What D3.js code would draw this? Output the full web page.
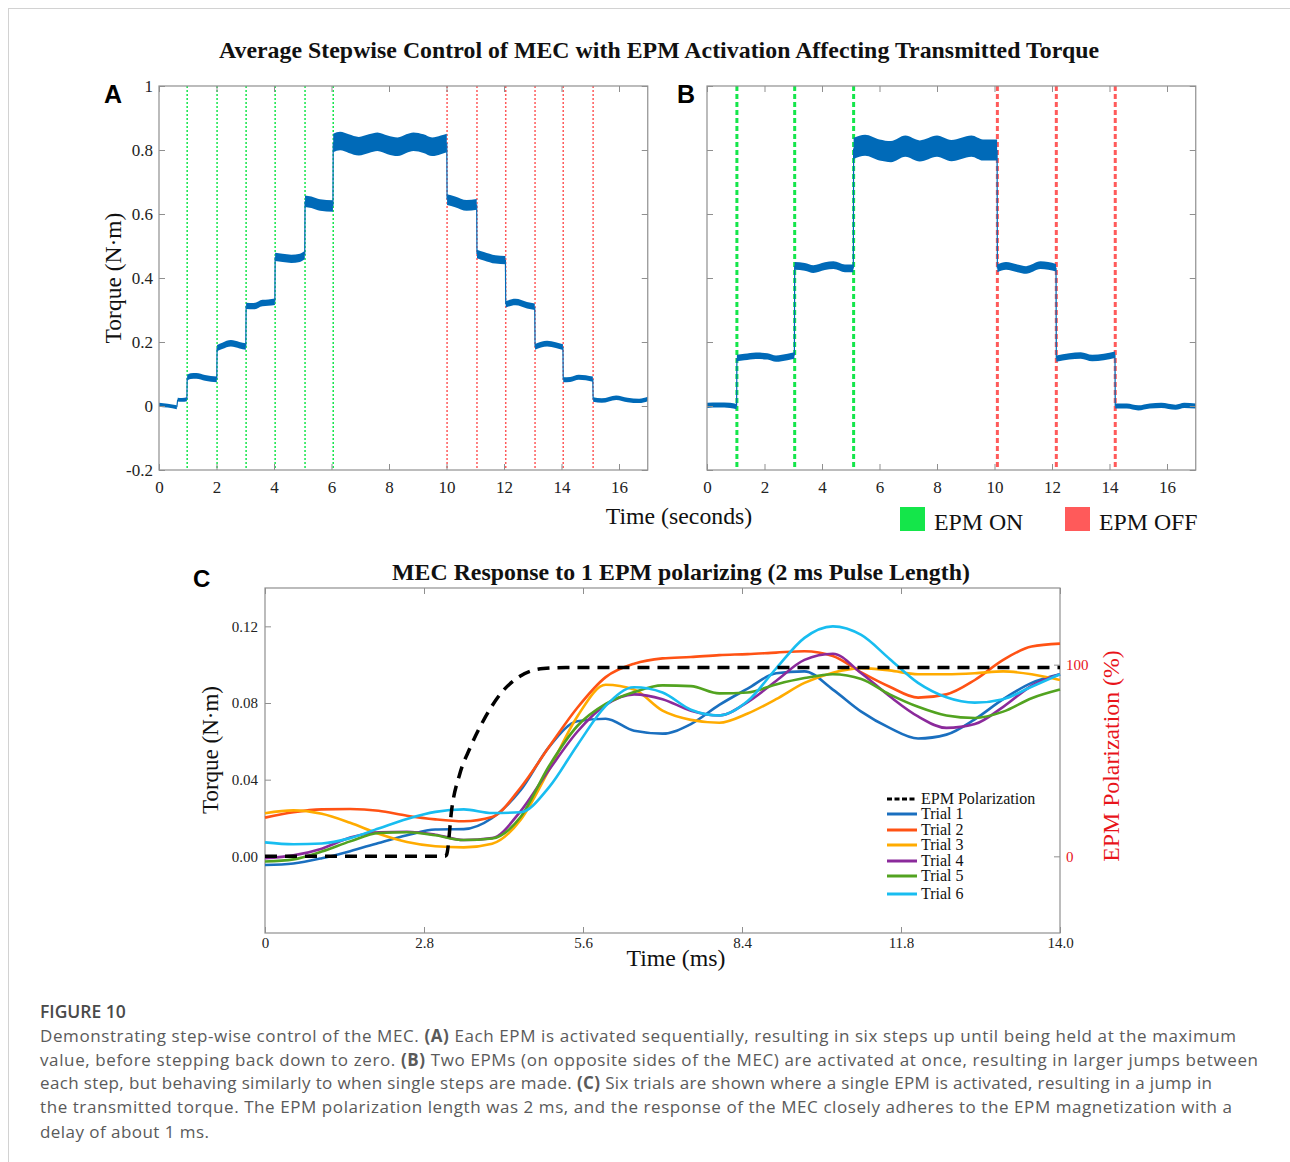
<!DOCTYPE html>
<html lang="en">
<head>
<meta charset="utf-8">
<title>Stepwise Control of MEC</title>
<script src="https://cdn.jsdelivr.net/npm/d3@7"></script>
<style>
  body { margin: 0; background: #fff; }
</style>
</head>
<body>
<script>

/* ---------- data ---------- */

// panel A: one EPM per step, each segment is [time s, torque N·m]
var aSegments = [
  [[0, 0.004], [0.3, 0.001], [0.62, -0.004]],
  [[0.65, 0.02], [0.8, 0.019], [0.97, 0.021]],
  [[0.98, 0.088], [1.1, 0.093], [1.3, 0.094], [1.6, 0.088], [2.01, 0.083]],
  [[2.02, 0.181], [2.2, 0.188], [2.5, 0.196], [2.8, 0.19], [3.02, 0.186]],
  [[3.03, 0.313], [3.3, 0.312], [3.6, 0.322], [3.8, 0.323], [4.03, 0.326]],
  [[4.04, 0.466], [4.3, 0.463], [4.6, 0.46], [4.9, 0.463], [5.07, 0.472]],
  [[5.08, 0.64], [5.3, 0.637], [5.6, 0.628], [6.05, 0.625]],
  [[6.06, 0.822], [6.3, 0.828], [6.6, 0.82], [6.95, 0.812], [7.3, 0.82], [7.6, 0.826], [7.95, 0.816],
   [8.3, 0.81], [8.6, 0.82], [8.85, 0.826], [9.2, 0.82], [9.5, 0.81], [9.8, 0.816], [10.01, 0.822]],
  [[10.02, 0.645], [10.3, 0.638], [10.7, 0.627], [11.05, 0.63]],
  [[11.06, 0.475], [11.3, 0.468], [11.7, 0.458], [12.05, 0.456]],
  [[12.06, 0.318], [12.4, 0.325], [12.8, 0.315], [13.07, 0.31]],
  [[13.08, 0.185], [13.5, 0.195], [13.8, 0.19], [14.05, 0.184]],
  [[14.06, 0.082], [14.3, 0.083], [14.6, 0.09], [15.09, 0.084]],
  [[15.1, 0.02], [15.4, 0.017], [15.9, 0.026], [16.3, 0.019], [16.7, 0.016], [17, 0.022]]
];
var aSpread = [0.006, 0.006, 0.009, 0.01, 0.01, 0.013, 0.018, 0.029, 0.017, 0.013, 0.01, 0.009, 0.008, 0.007];
var aOnTimes = [0.98, 2.02, 3.03, 4.04, 5.08, 6.06];
var aOffTimes = [10.02, 11.06, 12.06, 13.08, 14.06, 15.1];

// panel B: two EPMs per step
var bSegments = [
  [[0, 0.002], [0.4, 0.003], [0.8, 0.002], [1.03, -0.002]],
  [[1.04, 0.15], [1.3, 0.153], [1.7, 0.157], [2.1, 0.155], [2.4, 0.148], [2.8, 0.153], [3.04, 0.158]],
  [[3.05, 0.438], [3.4, 0.435], [3.7, 0.428], [4.1, 0.437], [4.4, 0.44], [4.8, 0.43], [5.09, 0.43]],
  [[5.1, 0.805], [5.5, 0.815], [6.0, 0.8], [6.4, 0.795], [6.9, 0.812], [7.4, 0.797], [8.0, 0.812],
   [8.5, 0.798], [9.2, 0.812], [9.6, 0.8], [10.09, 0.8]],
  [[10.1, 0.43], [10.4, 0.438], [10.8, 0.43], [11.1, 0.425], [11.6, 0.44], [12.14, 0.432]],
  [[12.15, 0.148], [12.6, 0.155], [13.0, 0.158], [13.4, 0.15], [13.8, 0.153], [14.19, 0.16]],
  [[14.2, 0.0], [14.6, 0.0], [15.0, -0.006], [15.4, 0.0], [15.8, 0.002], [16.3, -0.004], [16.6, 0.002], [17, 0.0]]
];
var bSpread = [0.008, 0.01, 0.012, 0.033, 0.012, 0.01, 0.008];
var bOnTimes = [1.04, 3.05, 5.1];
var bOffTimes = [10.1, 12.15, 14.2];

var stepXTicks = [0, 2, 4, 6, 8, 10, 12, 14, 16];
var stepYTicks = [-0.2, 0, 0.2, 0.4, 0.6, 0.8, 1];
var stepYLabels = ["-0.2", "0", "0.2", "0.4", "0.6", "0.8", "1"];

// panel C: single EPM pulse, six trials (time in ms)
var cTime = [0, 0.5, 1, 1.5, 2, 2.5, 3, 3.5, 4, 4.5, 5, 5.5, 6, 6.5, 7, 7.5, 8, 8.5, 9, 9.5, 10, 10.5, 11, 11.5, 12, 12.5, 13, 13.5, 14];
var trial1 = [-0.0045, -0.0037, -0.001, 0.0027, 0.007, 0.011, 0.014, 0.0142, 0.02, 0.0345, 0.057, 0.0705, 0.0718, 0.0655, 0.064,
  0.069, 0.079, 0.0875, 0.0955, 0.0965, 0.087, 0.0755, 0.067, 0.0615, 0.0635, 0.0715, 0.082, 0.0905, 0.095];
var trial2 = [0.0202, 0.023, 0.0245, 0.0247, 0.0238, 0.0212, 0.0193, 0.0183, 0.0205, 0.0358, 0.057, 0.0775, 0.0935, 0.1005, 0.1033,
  0.104, 0.105, 0.1055, 0.1063, 0.107, 0.1045, 0.096, 0.0885, 0.0828, 0.0845, 0.092, 0.1025, 0.1095, 0.111];
var trial3 = [0.0225, 0.024, 0.0222, 0.0175, 0.0118, 0.0075, 0.0053, 0.0047, 0.0066, 0.019, 0.045, 0.073, 0.0895, 0.087, 0.076,
  0.0712, 0.0697, 0.0745, 0.082, 0.0905, 0.0958, 0.0982, 0.097, 0.095, 0.095, 0.0955, 0.0965, 0.095, 0.092];
var trial4 = [-0.001, 0.0005, 0.004, 0.0098, 0.0126, 0.0128, 0.0113, 0.0085, 0.0095, 0.0235, 0.045, 0.065, 0.079, 0.0845, 0.082,
  0.076, 0.0735, 0.0805, 0.0915, 0.1025, 0.1057, 0.0955, 0.0835, 0.073, 0.067, 0.069, 0.078, 0.089, 0.095];
var trial5 = [-0.0027, -0.0016, 0.0025, 0.0078, 0.0122, 0.0126, 0.011, 0.0085, 0.0093, 0.0205, 0.047, 0.068, 0.0795, 0.0857, 0.0892,
  0.0888, 0.085, 0.0855, 0.0897, 0.093, 0.095, 0.0925, 0.0845, 0.078, 0.0735, 0.0722, 0.0755, 0.0825, 0.087];
var trial6 = [0.0073, 0.0063, 0.0067, 0.0095, 0.0145, 0.0195, 0.0232, 0.0245, 0.0226, 0.023, 0.036, 0.058, 0.0785, 0.0882, 0.0855,
  0.0765, 0.0735, 0.081, 0.098, 0.114, 0.12, 0.1155, 0.103, 0.0905, 0.083, 0.0802, 0.082, 0.0885, 0.095];
var trialNames = ["Trial 1", "Trial 2", "Trial 3", "Trial 4", "Trial 5", "Trial 6"];

// EPM polarization (%) against time (ms)
var polTime = [0, 3.17, 3.2, 3.29, 3.43, 3.61, 3.84, 4.14, 4.49, 4.9, 5.3, 14];
var polValue = [0, 0, 1, 25, 43, 56.5, 70.5, 84.5, 94, 98, 98.5, 98.5];

var cXTicks = [0, 2.8, 5.6, 8.4, 11.2, 14];
var cXLabels = ["0", "2.8", "5.6", "8.4", "11.8", "14.0"];
var cYTicks = [0, 0.04, 0.08, 0.12];
var cYLabels = ["0.00", "0.04", "0.08", "0.12"];
var cRTicks = [0, 100];

/* ---------- styles ---------- */

var serif = "'Liberation Serif', 'Times New Roman', serif";
var sans = "'Liberation Sans', Arial, sans-serif";
var axisGrey = "#8f8f8f";
var traceBlue = "#006ab8";
var onGreen = "#14e64a";
var offRed = "#ff5a5a";
var trialColors = ["#1a6fbf", "#ff5214", "#ffab00", "#8b2a9b", "#52a320", "#18bdf0"];

var w = 1290, h = 1162;
var svg = d3.select("body")
  .append("svg")
  .attr("width", w)
  .attr("height", h)
  .style("background", "#fff");

// page frame
svg.append("line").attr("x1", 8).attr("x2", w).attr("y1", 8.5).attr("y2", 8.5).attr("stroke", "#d2d2d2");
svg.append("line").attr("x1", 8.5).attr("x2", 8.5).attr("y1", 8).attr("y2", h).attr("stroke", "#d2d2d2");

svg.append("text")
  .attr("x", 659).attr("y", 58)
  .attr("text-anchor", "middle")
  .attr("font-family", serif).attr("font-weight", "bold").attr("font-size", "23.8px")
  .attr("textLength", 880).attr("lengthAdjust", "spacing")
  .attr("fill", "#111")
  .text("Average Stepwise Control of MEC with EPM Activation Affecting Transmitted Torque");

function styleAxis(sel, size) {
  sel.select(".domain").remove();
  sel.selectAll(".tick line").attr("stroke", axisGrey);
  sel.selectAll(".tick text")
    .attr("font-family", serif)
    .attr("font-size", size)
    .attr("fill", "#222");
}

/* ---------- panels A and B ---------- */

function stepPanel(left, segs, spread, onT, offT, dash, markWidth, showY) {
  var x = d3.scaleLinear().domain([0, 17]).range([left, left + 488.75]);
  var y = d3.scaleLinear().domain([-0.2, 1]).range([470, 86]);
  var g = svg.append("g");

  // EPM switching markers
  [[onT, onGreen], [offT, offRed]].forEach(function(m) {
    g.selectAll(null)
      .data(m[0])
      .enter()
      .append("line")
      .attr("x1", function(d) { return x(d); })
      .attr("x2", function(d) { return x(d); })
      .attr("y1", y(1))
      .attr("y2", y(-0.2))
      .attr("stroke", m[1])
      .attr("stroke-width", markWidth)
      .attr("stroke-dasharray", dash);
  });

  // torque trace drawn as a band around the mean
  segs.forEach(function(seg, i) {
    var hw = spread[i];
    var band = d3.area()
      .curve(d3.curveMonotoneX)
      .x(function(d) { return x(d[0]); })
      .y0(function(d) { return y(d[1] - hw); })
      .y1(function(d) { return y(d[1] + hw); });
    g.append("path").datum(seg).attr("d", band).attr("fill", traceBlue);
    if (i > 0) {
      var prev = segs[i - 1][segs[i - 1].length - 1];
      g.append("line")
        .attr("x1", x(prev[0])).attr("x2", x(seg[0][0]))
        .attr("y1", y(prev[1])).attr("y2", y(seg[0][1]))
        .attr("stroke", traceBlue).attr("stroke-width", 1.2);
    }
  });

  g.append("rect")
    .attr("x", x(0)).attr("y", y(1))
    .attr("width", x(17) - x(0)).attr("height", y(-0.2) - y(1))
    .attr("fill", "none").attr("stroke", axisGrey).attr("stroke-width", 1.2);

  g.append("g").attr("transform", "translate(0," + y(-0.2) + ")")
    .call(d3.axisBottom(x).tickValues(stepXTicks).tickFormat(d3.format("d")).tickSize(-6).tickSizeOuter(0).tickPadding(11))
    .call(styleAxis, "17px");
  g.append("g").attr("transform", "translate(0," + y(1) + ")")
    .call(d3.axisTop(x).tickValues(stepXTicks).tickFormat("").tickSize(-6).tickSizeOuter(0))
    .call(styleAxis, "17px");
  g.append("g").attr("transform", "translate(" + x(0) + ",0)")
    .call(d3.axisLeft(y).tickValues(stepYTicks)
      .tickFormat(function(d, i) { return showY ? stepYLabels[i] : ""; })
      .tickSize(-6).tickSizeOuter(0).tickPadding(6))
    .call(styleAxis, "17px");
  g.append("g").attr("transform", "translate(" + x(17) + ",0)")
    .call(d3.axisRight(y).tickValues(stepYTicks).tickFormat("").tickSize(-6).tickSizeOuter(0))
    .call(styleAxis, "17px");
}

stepPanel(159, aSegments, aSpread, aOnTimes, aOffTimes, "2,2", 1.5, true);
stepPanel(707, bSegments, bSpread, bOnTimes, bOffTimes, "5,3", 3, false);

svg.append("text").attr("x", 104).attr("y", 103)
  .attr("font-family", sans).attr("font-weight", "bold").attr("font-size", "25px").text("A");
svg.append("text").attr("x", 677).attr("y", 103)
  .attr("font-family", sans).attr("font-weight", "bold").attr("font-size", "25px").text("B");

svg.append("text")
  .attr("transform", "translate(121,278) rotate(-90)")
  .attr("text-anchor", "middle")
  .attr("font-family", serif).attr("font-size", "23.5px").attr("fill", "#111")
  .text("Torque (N·m)");
svg.append("text")
  .attr("x", 679).attr("y", 524)
  .attr("text-anchor", "middle")
  .attr("font-family", serif).attr("font-size", "23.8px").attr("fill", "#111")
  .text("Time (seconds)");

// EPM ON / OFF key
var key = [["EPM ON", onGreen, 900], ["EPM OFF", offRed, 1065]];
svg.selectAll(".key")
  .data(key)
  .enter()
  .append("rect")
  .attr("x", function(d) { return d[2]; })
  .attr("y", 507)
  .attr("width", 25).attr("height", 24)
  .attr("fill", function(d) { return d[1]; });
svg.selectAll(".keytext")
  .data(key)
  .enter()
  .append("text")
  .attr("x", function(d) { return d[2] + 34; })
  .attr("y", 530)
  .attr("font-family", serif).attr("font-size", "23.8px").attr("fill", "#111")
  .text(function(d) { return d[0]; });

/* ---------- panel C ---------- */

var cx = d3.scaleLinear().domain([0, 14]).range([265, 1060]);
var cy = d3.scaleLinear().domain([-0.04, 0.14]).range([933, 588]);
var cyR = d3.scaleLinear().domain([-40, 140]).range([933, 588]);
var gc = svg.append("g");

gc.append("rect")
  .attr("x", cx(0)).attr("y", cy(0.14))
  .attr("width", cx(14) - cx(0)).attr("height", cy(-0.04) - cy(0.14))
  .attr("fill", "none").attr("stroke", axisGrey).attr("stroke-width", 1.2);

gc.append("g").attr("transform", "translate(0," + cy(-0.04) + ")")
  .call(d3.axisBottom(cx).tickValues(cXTicks)
    .tickFormat(function(d, i) { return cXLabels[i]; })
    .tickSize(-6).tickSizeOuter(0).tickPadding(4))
  .call(styleAxis, "15px");
gc.append("g").attr("transform", "translate(0," + cy(0.14) + ")")
  .call(d3.axisTop(cx).tickValues(cXTicks).tickFormat("").tickSize(-6).tickSizeOuter(0))
  .call(styleAxis, "15px");
gc.append("g").attr("transform", "translate(" + cx(0) + ",0)")
  .call(d3.axisLeft(cy).tickValues(cYTicks)
    .tickFormat(function(d, i) { return cYLabels[i]; })
    .tickSize(-6).tickSizeOuter(0).tickPadding(7))
  .call(styleAxis, "15px");
var rAxis = gc.append("g").attr("transform", "translate(" + cx(14) + ",0)")
  .call(d3.axisRight(cyR).tickValues(cRTicks).tickFormat(d3.format("d")).tickSize(-6).tickSizeOuter(0).tickPadding(6))
  .call(styleAxis, "15px");
rAxis.selectAll(".tick text").attr("fill", "#e8141b");

var trials = [trial1, trial2, trial3, trial4, trial5, trial6];
var trialLine = d3.line()
  .curve(d3.curveMonotoneX)
  .x(function(d, i) { return cx(cTime[i]); })
  .y(function(d) { return cy(d); });

gc.selectAll(".trial")
  .data(trials)
  .enter()
  .append("path")
  .attr("class", "trial")
  .attr("d", trialLine)
  .attr("fill", "none")
  .attr("stroke", function(d, i) { return trialColors[i]; })
  .attr("stroke-width", 2.6);

var polLine = d3.line()
  .curve(d3.curveMonotoneX)
  .x(function(d, i) { return cx(polTime[i]); })
  .y(function(d) { return cyR(d); });
gc.append("path")
  .datum(polValue)
  .attr("d", polLine)
  .attr("fill", "none")
  .attr("stroke", "#000")
  .attr("stroke-width", 3.5)
  .attr("stroke-dasharray", "12,8");

// legend
var legY = [799, 814, 830, 845, 861, 876, 894];
gc.append("line")
  .attr("x1", 887).attr("x2", 917).attr("y1", legY[0]).attr("y2", legY[0])
  .attr("stroke", "#000").attr("stroke-width", 3).attr("stroke-dasharray", "5,2.5");
gc.append("text")
  .attr("x", 921).attr("y", legY[0] + 5)
  .attr("font-family", serif).attr("font-size", "16px").attr("fill", "#111")
  .text("EPM Polarization");
gc.selectAll(".legline")
  .data(trialNames)
  .enter()
  .append("line")
  .attr("x1", 887).attr("x2", 917)
  .attr("y1", function(d, i) { return legY[i + 1]; })
  .attr("y2", function(d, i) { return legY[i + 1]; })
  .attr("stroke", function(d, i) { return trialColors[i]; })
  .attr("stroke-width", 3);
gc.selectAll(".legtext")
  .data(trialNames)
  .enter()
  .append("text")
  .attr("x", 921)
  .attr("y", function(d, i) { return legY[i + 1] + 5; })
  .attr("font-family", serif).attr("font-size", "16px").attr("fill", "#111")
  .text(function(d) { return d; });

svg.append("text").attr("x", 193).attr("y", 587)
  .attr("font-family", sans).attr("font-weight", "bold").attr("font-size", "24px").text("C");
svg.append("text")
  .attr("x", 681).attr("y", 580)
  .attr("text-anchor", "middle")
  .attr("font-family", serif).attr("font-weight", "bold").attr("font-size", "23.8px").attr("fill", "#111")
  .attr("textLength", 578).attr("lengthAdjust", "spacing")
  .text("MEC Response to 1 EPM polarizing (2 ms Pulse Length)");
svg.append("text")
  .attr("transform", "translate(218,750) rotate(-90)")
  .attr("text-anchor", "middle")
  .attr("font-family", serif).attr("font-size", "23px").attr("fill", "#111")
  .text("Torque (N·m)");
svg.append("text")
  .attr("x", 676).attr("y", 966)
  .attr("text-anchor", "middle")
  .attr("font-family", serif).attr("font-size", "23.8px").attr("fill", "#111")
  .text("Time (ms)");
svg.append("text")
  .attr("transform", "translate(1119,756) rotate(-90)")
  .attr("text-anchor", "middle")
  .attr("font-family", serif).attr("font-size", "23.8px").attr("fill", "#e8141b")
  .text("EPM Polarization (%)");

/* ---------- caption ---------- */

svg.append("text")
  .attr("x", 40).attr("y", 1018)
  .attr("font-family", "'Open Sans', sans-serif").attr("font-weight", 600).attr("font-size", "17.5px")
  .attr("fill", "#4a4a4a")
  .text("FIGURE 10");

var captionLines = [
  [["Demonstrating step-wise control of the MEC. ", 0], ["(A)", 1], [" Each EPM is activated sequentially, resulting in six steps up until being held at the maximum", 0]],
  [["value, before stepping back down to zero. ", 0], ["(B)", 1], [" Two EPMs (on opposite sides of the MEC) are activated at once, resulting in larger jumps between", 0]],
  [["each step, but behaving similarly to when single steps are made. ", 0], ["(C)", 1], [" Six trials are shown where a single EPM is activated, resulting in a jump in", 0]],
  [["the transmitted torque. The EPM polarization length was 2 ms, and the response of the MEC closely adheres to the EPM magnetization with a", 0]],
  [["delay of about 1 ms.", 0]]
];
var captionWidths = [1196, 1218, 1172, 1192, 169];
var captionY = [1042, 1066, 1089, 1113, 1138];

captionLines.forEach(function(parts, i) {
  var t = svg.append("text")
    .attr("x", 40).attr("y", captionY[i])
    .attr("font-family", "'Open Sans', sans-serif").attr("font-size", "17px")
    .attr("fill", "#5a5a5a")
    .attr("textLength", captionWidths[i])
    .attr("lengthAdjust", "spacing");
  parts.forEach(function(p) {
    t.append("tspan").attr("font-weight", p[1] ? 700 : 400).text(p[0]);
  });
});

</script>
</body>
</html>
